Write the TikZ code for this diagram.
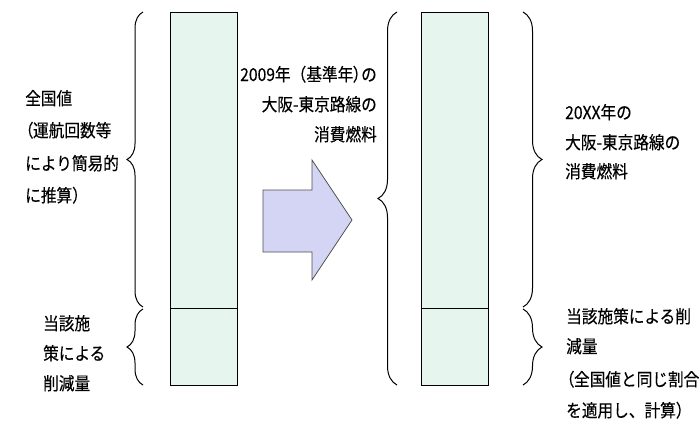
\documentclass[tikz,border=0pt]{standalone}
\usepackage{fontspec}
\setmainfont{Noto Sans CJK JP}[FakeStretch=0.88,FakeBold=0.3]
\newfontfamily\pfont{Noto Sans CJK JP}[RawFeature=+palt,FakeStretch=0.88,FakeBold=0.3]
\newcommand\lpr{{\pfont （}}
\newcommand\rpr{{\pfont ）}}
\usetikzlibrary{decorations.pathreplacing}
\definecolor{barfill}{RGB}{230,245,238}
\definecolor{arrowfill}{RGB}{212,212,245}
\definecolor{arrowline}{RGB}{80,80,80}
\tikzset{
  bar/.style={draw=black, line width=1pt, fill=barfill},
  bracebig/.style={draw=black, line width=1pt, decorate, decoration={brace, amplitude=#1}},
  txt/.style={inner sep=0pt, anchor=base west, font=\fontsize{17.8}{20}\selectfont},
  txtr/.style={inner sep=0pt, anchor=base east, font=\fontsize{17.8}{20}\selectfont},
  blockarrow/.style={draw=arrowline, line width=0.8pt, fill=arrowfill, line join=miter}
}
\begin{document}
\begin{tikzpicture}[x=1pt,y=-1pt]
\useasboundingbox (0,0) rectangle (700,423);
% bars
\draw[bar] (170,12) rectangle (237,385);
\draw[bar] (170,308) -- (237,308);
\draw[bar] (421,12) rectangle (488,385);
\draw[bar] (421,308) -- (488,308);
% left braces
\draw[bracebig=16pt] (143,307) -- (143,12);
\draw[bracebig=16pt] (143,385) -- (143,309);
% right bar left brace
\draw[bracebig=19pt] (397,385) -- (397,12);
% right braces
\draw[bracebig=19pt] (523,12) -- (523,307);
\draw[bracebig=19pt] (523,309) -- (523,385);
% block arrow
\draw[blockarrow] (263,190) -- (312,190) -- (312,160) -- (352,220) -- (312,280) -- (312,252) -- (263,252) -- cycle;
% left texts
\node[txt] (la) at (25,105) {全国値};
\node[txt] (lb) at (25,137) {\lpr 運航回数等};
\node[txt] (lc) at (25,170) {により簡易的};
\node[txt] (ld) at (25,202) {に推算）};
\node[txt] (le) at (43,330) {当該施};
\node[txt] (lf) at (43,360) {策による};
\node[txt] (lg) at (43,390) {削減量};
% middle texts
\node[txtr] (ma) at (377,81) {2009年（基準年\rpr の};
\node[txtr] (mb) at (377,111) {大阪-東京路線の};
\node[txtr] (mc) at (377,141) {消費燃料};
% right texts
\node[txt] (ra) at (565,119) {20XX年の};
\node[txt] (rb) at (565,149) {大阪-東京路線の};
\node[txt] (rc) at (565,178) {消費燃料};
\node[txt] (rd) at (566,323) {当該施策による削};
\node[txt] (re) at (566,353) {減量};
\node[txt] (rf) at (566,386) {\lpr 全国値と同じ割合};
\node[txt] (rg) at (566,417) {を適用し、計算）};
\end{tikzpicture}
\end{document}
